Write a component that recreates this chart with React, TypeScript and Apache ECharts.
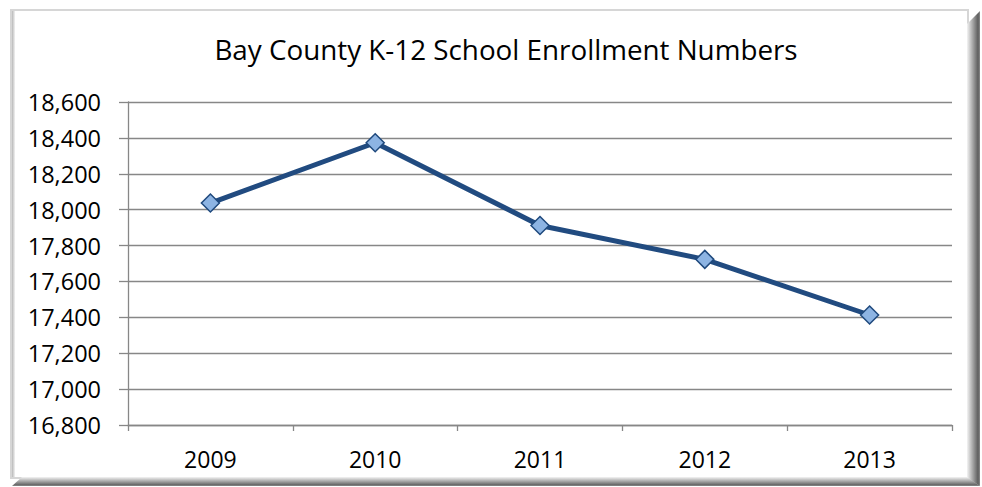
import React, { useEffect, useRef } from 'react';
import * as echarts from 'echarts';

const TITLE = 'Bay County K-12 School Enrollment Numbers';
const YEARS = ['2009', '2010', '2011', '2012', '2013'];
const ENROLLMENT = [18037, 18373, 17912, 17723, 17413];
const Y_MIN = 16800;
const Y_MAX = 18600;
const Y_STEP = 200;

const FONT = 'Open Sans';

export default function App() {
  const ref = useRef<HTMLDivElement>(null);
  useEffect(() => {
    document.body.style.margin = '0';
    const chart = echarts.init(ref.current!, null, { renderer: 'svg', width: 982, height: 487 });
    const grad = (x: number, y: number, x2: number, y2: number, stops: [number, string][]) =>
      new echarts.graphic.LinearGradient(x, y, x2, y2, stops.map(([offset, color]) => ({ offset, color })));
    chart.setOption({
      animation: false,
      backgroundColor: '#ffffff',
      graphic: [
        {
          type: 'rect',
          silent: true,
          z: -10,
          shape: { x: 11, y: 10, width: 957, height: 468 },
          style: { fill: 'none', stroke: '#d6d6d6', lineWidth: 2 },
        },
        {
          type: 'rect',
          silent: true,
          z: -10,
          shape: { x: 12, y: 11, width: 3, height: 466 },
          style: { fill: grad(0, 0, 1, 0, [[0, '#b8b8b8'], [1, '#f2f2f2']]) },
        },
        {
          type: 'polygon',
          silent: true,
          z: -10,
          shape: { points: [[967, 24], [980, 11], [980, 486], [967, 478]] },
          style: { fill: grad(0, 0, 1, 0, [[0, '#f4f4f4'], [0.85, '#5e5e5e'], [1, '#8a8a8a']]) },
        },
        {
          type: 'polygon',
          silent: true,
          z: -10,
          shape: { points: [[12, 486], [22, 477], [967, 477], [980, 486]] },
          style: { fill: grad(0, 0, 0, 1, [[0, '#f4f4f4'], [0.85, '#6a6a6a'], [1, '#8a8a8a']]) },
        },
        {
          type: 'text',
          silent: true,
          x: 506,
          y: 49,
          style: {
            text: TITLE,
            fontFamily: FONT,
            fontSize: 27.8,
            fill: '#000000',
            align: 'center',
            verticalAlign: 'middle',
          },
        },
      ],
      grid: { left: 128, right: 30, top: 102, bottom: 62, containLabel: false },
      xAxis: {
        type: 'category',
        data: YEARS,
        boundaryGap: true,
        axisLine: { show: true, lineStyle: { color: '#878787', width: 1.3 } },
        axisTick: { show: true, length: 6, alignWithLabel: false, lineStyle: { color: '#878787', width: 1.3 } },
        axisLabel: { color: '#000000', fontFamily: FONT, fontSize: 23, margin: 22 },
        splitLine: { show: false },
      },
      yAxis: {
        type: 'value',
        min: Y_MIN,
        max: Y_MAX,
        interval: Y_STEP,
        axisLine: { show: true, lineStyle: { color: '#878787', width: 1.3 } },
        axisTick: { show: true, length: 9, inside: false, lineStyle: { color: '#878787', width: 1.3 } },
        axisLabel: {
          color: '#000000',
          fontFamily: FONT,
          fontSize: 23.5,
          margin: 27,
          formatter: (v: number) => v.toLocaleString('en-US'),
        },
        splitLine: { show: true, lineStyle: { color: '#878787', width: 1.3 } },
      },
      series: [
        {
          type: 'line',
          data: ENROLLMENT,
          symbol: 'diamond',
          symbolSize: 18,
          lineStyle: { color: '#214B80', width: 5 },
          itemStyle: { color: '#8DB4E3', borderColor: '#1F497D', borderWidth: 1.5 },
          emphasis: { disabled: true },
          z: 3,
        },
      ],
    });
    return () => chart.dispose();
  }, []);
  return <div ref={ref} style={{ width: 982, height: 487 }} />;
}
